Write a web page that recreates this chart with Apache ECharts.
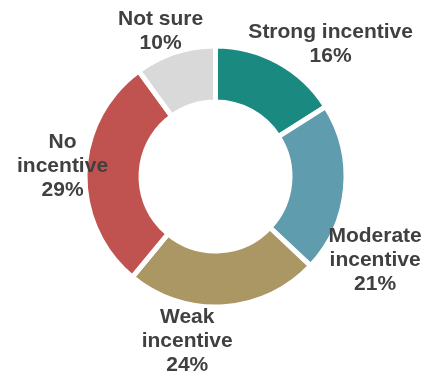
<!DOCTYPE html>
<html>
<head>
<meta charset="utf-8">
<script src="https://cdn.jsdelivr.net/npm/echarts@6/dist/echarts.min.js"></script>
<style>
  html, body { margin: 0; padding: 0; background: #ffffff; }
  #chart { width: 440px; height: 374px; }
</style>
</head>
<body>
<div id="chart"></div>
<script>
// Survey answers: how strong an incentive it is
const categories = ['Strong incentive', 'Moderate\nincentive', 'Weak\nincentive', 'No\nincentive', 'Not sure'];
const shares = [16, 21, 24, 29, 10];
const colors = ['#1a8a80', '#5f9cad', '#aa9764', '#c0534f', '#d9d9d9'];
// nudges (px) applied to each label after the pie's own outside placement
const labelShiftX = [-35, -22, -87, 28, 33];
const labelShiftY = [-18, 71, 34, -6, -21];

const chart = echarts.init(document.getElementById('chart'), null, { renderer: 'canvas' });

chart.setOption({
  animation: false,
  series: [{
    type: 'pie',
    center: [215.5, 176.5],
    radius: [74.5, 130.5],
    startAngle: 90,
    clockwise: true,
    avoidLabelOverlap: false,
    data: categories.map((name, i) => ({ name, value: shares[i], itemStyle: { color: colors[i] } })),
    itemStyle: { borderColor: '#ffffff', borderWidth: 5 },
    label: {
      show: true,
      position: 'outside',
      formatter: '{b}\n{c}%',
      color: '#404040',
      fontFamily: 'Liberation Sans, Arial, sans-serif',
      fontWeight: 'bold',
      fontSize: 21,
      lineHeight: 24
    },
    labelLine: { show: false, length: 0, length2: 0 },
    labelLayout: function (p) {
      const r = p.labelRect;
      const i = p.dataIndex;
      return {
        x: r.x + r.width / 2 + labelShiftX[i],
        y: r.y + r.height / 2 + labelShiftY[i],
        align: 'center',
        verticalAlign: 'middle'
      };
    }
  }]
});
</script>
</body>
</html>
